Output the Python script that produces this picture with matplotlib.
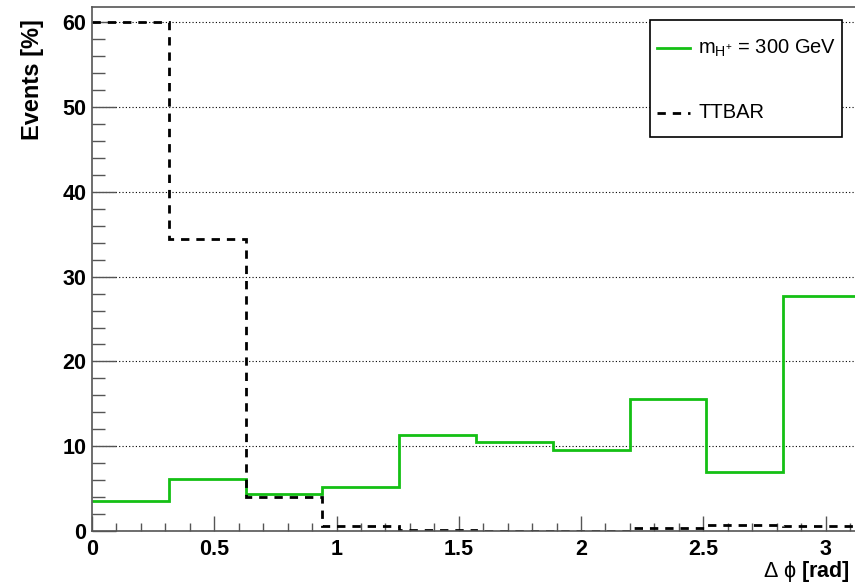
import numpy as np
import matplotlib
matplotlib.use("Agg")
import matplotlib.pyplot as plt
from matplotlib.lines import Line2D
from matplotlib.patches import Rectangle
from matplotlib.ticker import MultipleLocator

plt.rcParams['font.family'] = ['Liberation Sans', 'DejaVu Sans']
plt.rcParams['mathtext.fontset'] = 'custom'
plt.rcParams['mathtext.rm'] = 'Liberation Sans'
plt.rcParams['mathtext.it'] = 'Liberation Sans'
plt.rcParams['mathtext.bf'] = 'Liberation Sans:bold'

# ---- data ----
n_bins = 10
bin_edges = np.linspace(0, np.pi, n_bins + 1)
signal_label = r'$\mathrm{m}_{\mathrm{H}^{+}}$ = 300 GeV'
signal_values = [3.55, 6.15, 4.35, 5.2, 11.3, 10.5, 9.55, 15.55, 6.95, 27.7]
ttbar_label = 'TTBAR'
ttbar_values = [60.05, 34.4, 4.0, 0.55, 0.15, 0.05, 0.05, 0.35, 0.75, 0.55]
xlabel = r'$\Delta\ \phi$ [rad]'
ylabel = 'Events [%]'

W, H = 855, 585
fig = plt.figure(figsize=(W / 100, H / 100), dpi=100)
ax_left, ax_bottom_px, ax_top_px = 92, 531, 7
ax_width_px = np.pi * 244.5
ax = fig.add_axes([ax_left / W, (H - ax_bottom_px) / H,
                   ax_width_px / W, (ax_bottom_px - ax_top_px) / H])

green = '#14c014'
ax.stairs(signal_values, bin_edges, color=green, lw=2.0, baseline=None)
ax.stairs(ttbar_values, bin_edges, color='black', lw=2.0, ls=(0, (3, 2.5)),
          baseline=None)

ax.set_xlim(0, np.pi)
ax.set_ylim(0, 61.8)
ax.yaxis.set_major_locator(MultipleLocator(10))
ax.yaxis.set_minor_locator(MultipleLocator(2))
ax.xaxis.set_major_locator(MultipleLocator(0.5))
ax.xaxis.set_minor_locator(MultipleLocator(0.1))
ax.xaxis.set_major_formatter(matplotlib.ticker.FuncFormatter(
    lambda v, p: ('%g' % v)))

ax.grid(axis='y', which='major', ls=(0, (1, 2)), color='black', lw=0.8)
ax.set_axisbelow(True)

spine_c = '#555555'
for s in ax.spines.values():
    s.set_color(spine_c)
    s.set_linewidth(1.2)

ax.tick_params(axis='y', which='major', direction='in', length=17, width=1.0,
               color=spine_c, labelsize=15.5, pad=4)
ax.tick_params(axis='y', which='minor', direction='in', length=9.5, width=1.0,
               color=spine_c)
ax.tick_params(axis='x', which='major', direction='in', length=11, width=1.0,
               color=spine_c, labelsize=15.5, pad=6)
ax.tick_params(axis='x', which='minor', direction='in', length=6, width=1.0,
               color=spine_c)
for lab in ax.get_xticklabels() + ax.get_yticklabels():
    lab.set_fontweight('bold')

fig.text(850 / W, 1 - 571 / H, xlabel, ha='right', va='center',
         fontsize=15.5, fontweight='bold')
fig.text(33 / W, 1 - 80 / H, ylabel, ha='center', va='center',
         rotation=90, fontsize=17, fontweight='bold')

# ---- legend ----
lx0, lx1, ly0, ly1 = 650, 842, 20, 137
fig.patches.append(Rectangle((lx0 / W, 1 - ly1 / H), (lx1 - lx0) / W,
                             (ly1 - ly0) / H, transform=fig.transFigure,
                             facecolor='white', edgecolor='black', lw=1.2,
                             zorder=5))
entries = [(signal_label, green, '-', 48), (ttbar_label, 'black', (0, (3, 2.5)), 113)]
for text, col, ls, ypx in entries:
    fig.lines.append(Line2D([657 / W, 690 / W], [1 - ypx / H, 1 - ypx / H],
                            transform=fig.transFigure, color=col, lw=2.0,
                            ls=ls, zorder=6))
    fig.text(698 / W, 1 - ypx / H, text, ha='left', va='center',
             fontsize=14.5, zorder=6)

fig.savefig('out.png', dpi=100)
